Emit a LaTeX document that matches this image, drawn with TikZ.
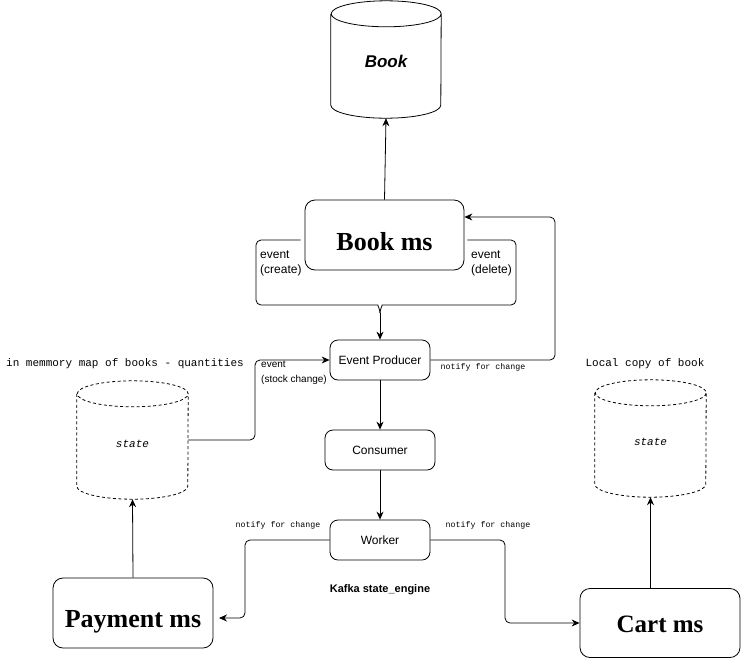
\documentclass[tikz,border=0pt]{standalone}
\usepackage{fontspec}
\setmainfont{Liberation Sans}
\newfontfamily\msfont{Liberation Serif}
\newfontfamily\codefont{Liberation Mono}
\usetikzlibrary{arrows.meta}

\tikzset{
  box/.style={draw, thick, rounded corners=8pt, fill=white, font=\fontsize{12}{14}\selectfont},
  msbox/.style={box, rounded corners=10pt, text depth=0pt, font=\msfont\bfseries\fontsize{26}{30}\selectfont},
  db/.style={inner sep=0pt, text depth=0pt},
  dbline/.style={thick},
  dbdash/.style={dbline, dash pattern=on 3pt off 2.5pt},
  conn/.style={draw, thick, rounded corners=5pt},
  arr/.style={conn, -{Stealth[length=8pt,width=7pt]}},
  lbl/.style={inner sep=0pt, align=left, font=\fontsize{12}{15}\selectfont},
  codelbl/.style={inner sep=0pt, font=\codefont\fontsize{11}{13}\selectfont},
  smallcode/.style={inner sep=0pt, font=\codefont\fontsize{8.3}{10}\selectfont}
}

% cylinder outline round a named node: [style]{node}{half width}
\newcommand\dbcylinder[3][dbline]{%
  \draw[#1] ([yshift=-13pt]#2.north west) -- ([yshift=13pt]#2.south west)
    arc[start angle=180, end angle=360, x radius=#3, y radius=13pt]
    -- ([yshift=-13pt]#2.north east)
    arc[start angle=0, end angle=180, x radius=#3, y radius=13pt]
    arc[start angle=180, end angle=360, x radius=#3, y radius=13pt];}

\begin{document}
\begin{tikzpicture}[x=1pt, y=-1pt]
  \useasboundingbox (0,0) rectangle (741,659);

  % databases
  \node[db, minimum width=110pt, minimum height=117pt, text height=16pt,
        font=\bfseries\itshape\fontsize{17}{20}\selectfont] (bookdb) at (386,59.5) {Book};
  \dbcylinder{bookdb}{55pt}
  \node[db, minimum width=111pt, minimum height=118pt, text height=14pt,
        font=\codefont\itshape\fontsize{11}{13}\selectfont] (paystate) at (132.5,440) {state};
  \dbcylinder[dbdash]{paystate}{55.5pt}
  \node[db, minimum width=111pt, minimum height=117pt, text height=14pt,
        font=\codefont\itshape\fontsize{11}{13}\selectfont] (cartstate) at (650.5,438.5) {state};
  \dbcylinder[dbdash]{cartstate}{55.5pt}
  \node[codelbl] (paytitle) at (125,364) {in memmory map of books - quantities};
  \node[codelbl] (carttitle) at (645,364) {Local copy of book};

  % services
  \node[msbox, minimum width=159pt, minimum height=70pt, text height=30pt] (bookms) at (384.5,235) {Book ms};
  \node[msbox, minimum width=160pt, minimum height=70pt, text height=28pt] (payms) at (133,613) {Payment ms};
  \node[msbox, minimum width=160pt, minimum height=69pt, text height=18pt,
        font=\msfont\bfseries\fontsize{25}{30}\selectfont] (cartms) at (660,623) {Cart ms};

  % kafka engine
  \node[box, minimum width=100pt, minimum height=40pt] (producer) at (380,360) {Event Producer};
  \node[box, minimum width=110pt, minimum height=40pt] (consumer) at (380,450) {Consumer};
  \node[box, minimum width=100pt, minimum height=40pt] (worker) at (380,540) {Worker};
  \node[inner sep=0pt, font=\bfseries\fontsize{11}{13}\selectfont] (kafka) at (380,590) {Kafka state\_engine};

  % book ms <-> book db
  \draw[arr] (bookms.north) -- (bookdb.south);

  % create / delete events
  \coordinate (join) at (380,313);
  \draw[conn] ([xshift=-4pt,yshift=-5pt]bookms.west) -- (256,240) -- (256,305) -- (373,305)
    to[out=0, in=90] (join);
  \draw[conn] ([xshift=3pt,yshift=-5pt]bookms.east) -- (516,240) -- (516,305) -- (387,305)
    to[out=180, in=90] (join);
  \draw[arr] (join) -- (producer.north);
  \node[lbl, anchor=north west] (createlbl) at (260,251) {event\\(create)};
  \node[lbl, anchor=north west] (deletelbl) at (471,251) {event\\(delete)};

  % notify book ms
  \draw[arr] (producer.east) -- (555,360) -- (555,217) -- ([yshift=18pt]bookms.east);
  \node[smallcode] (notifybook) at (483,367) {notify for change};

  % stock change event
  \draw[arr] (paystate.east) -- (255,440) -- (255,360) -- (producer.west);
  \node[lbl, anchor=north west, font=\fontsize{10}{14.5}\selectfont] (stocklbl) at (261,361) {event\\(stock change)};

  % pipeline
  \draw[arr] (producer.south) -- (consumer.north);
  \draw[arr] (consumer.south) -- (worker.north);

  % worker -> services
  \coordinate (payin) at (219,618);
  \draw[arr] (worker.west) -- (245,540) -- (245,618) -- (payin);
  \node[smallcode] (notifypay) at (278,525) {notify for change};
  \draw[arr] (worker.east) -- (505,540) -- (505,623) -- (cartms.west);
  \node[smallcode] (notifycart) at (488,525) {notify for change};

  % services -> state
  \draw[arr] (payms.north) -- (paystate.south);
  \draw[arr] (cartms.north -| cartstate.south) -- (cartstate.south);
\end{tikzpicture}
\end{document}
